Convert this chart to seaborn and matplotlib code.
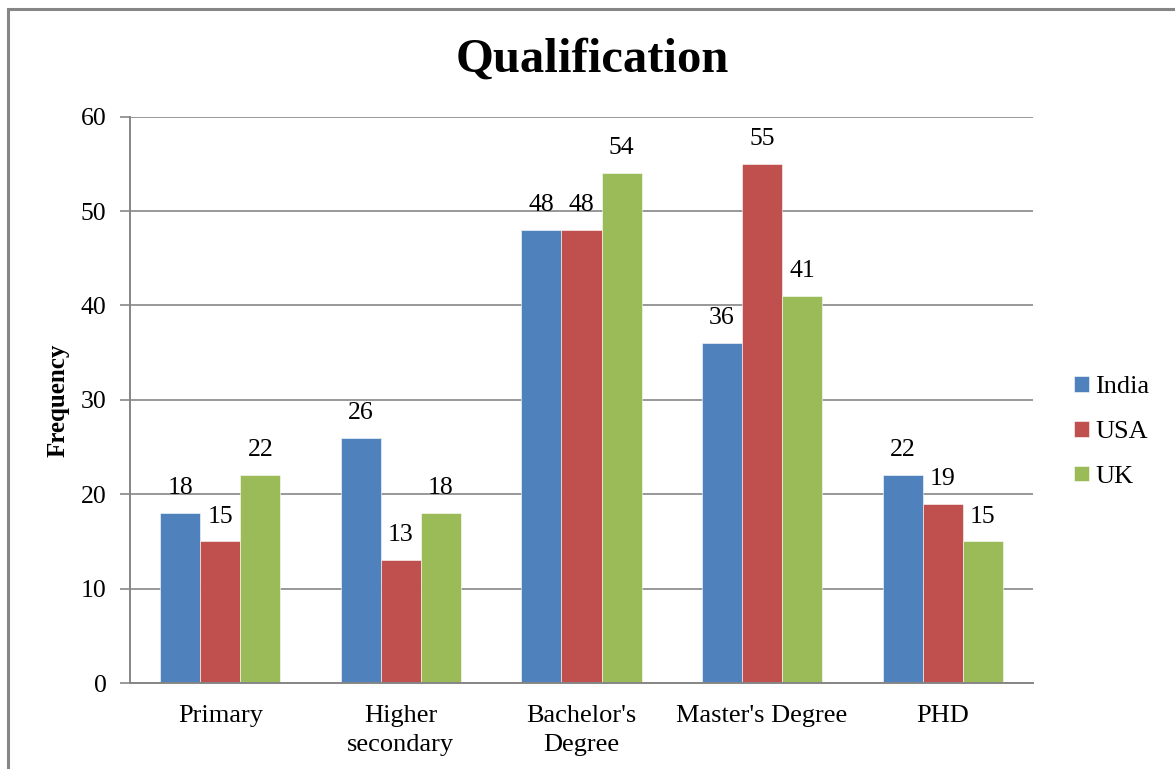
import matplotlib
matplotlib.use("Agg")
import matplotlib.pyplot as plt
import seaborn as sns
import pandas as pd
from matplotlib.patches import Rectangle

categories = ["Primary", "Higher\nsecondary", "Bachelor's\nDegree", "Master's Degree", "PHD"]
india = [18, 26, 48, 36, 22]
usa = [15, 13, 48, 55, 19]
uk = [22, 18, 54, 41, 15]
series_names = ["India", "USA", "UK"]
colors = ["#4F81BD", "#C0504D", "#9BBB59"]
yticks = [0, 10, 20, 30, 40, 50, 60]

df = pd.DataFrame({
    "Category": categories * 3,
    "Country": ["India"] * 5 + ["USA"] * 5 + ["UK"] * 5,
    "Frequency": india + usa + uk,
})

sns.set_style("white")
plt.rcParams["font.family"] = ["Liberation Serif", "DejaVu Serif"]
plt.rcParams["text.color"] = "black"
plt.rcParams["xtick.color"] = "black"
plt.rcParams["ytick.color"] = "black"

W, H = 1175, 769
fig = plt.figure(figsize=(W / 100, H / 100), dpi=100)
ax = fig.add_axes([130 / W, 1 - 683 / H, (1033 - 130) / W, (683 - 116.7) / H])

sns.barplot(data=df, x="Category", y="Frequency", hue="Country",
            hue_order=series_names, palette=colors, order=categories,
            width=0.665, gap=0, saturation=1, ax=ax,
            edgecolor="white", linewidth=0.4, errorbar=None)

for cont in ax.containers:
    ax.bar_label(cont, fmt="%d", padding=10, fontsize=18.5, color="black")

ax.set_ylim(0, 60)
ax.set_yticks(yticks)
ax.set_yticklabels([str(v) for v in yticks], fontsize=18.5)
ax.yaxis.grid(True, color="#868686", linewidth=1.2)
ax.set_axisbelow(True)
ax.tick_params(axis="y", length=7, width=1.2, color="#868686", labelcolor="black", pad=10, left=True)
ax.tick_params(axis="x", length=0, pad=16, labelsize=19, labelcolor="black")
for lbl in ax.get_xticklabels():
    lbl.set_linespacing(1.4)

for s in ["top", "right"]:
    ax.spines[s].set_visible(False)
for s in ["left", "bottom"]:
    ax.spines[s].set_color("#868686")
    ax.spines[s].set_linewidth(1.4)

ax.set_xlabel("")
ax.set_ylabel("Frequency", fontsize=18, fontweight="bold", color="black")
ax.yaxis.label.set_va("center")
ax.yaxis.set_label_coords((58 - 130) / (1033 - 130), 0.5)

leg = ax.legend(loc="center left", bbox_to_anchor=((1074 - 130) / (1033 - 130), (683 - 432) / (683 - 116.7)),
                frameon=False, fontsize=19, handlelength=0.55, handleheight=0.55,
                handletextpad=0.25, labelspacing=0.85, borderpad=0, borderaxespad=0)
for t in leg.get_texts():
    t.set_color("black")

fig.text(592 / W, 1 - 60 / H, "Qualification", ha="center", va="center",
         fontsize=35, fontweight="bold", color="black")

fig.patches.append(Rectangle((8 / W, -0.1), 1.2, 1 - 9 / H + 0.1, transform=fig.transFigure,
                             fill=False, edgecolor="#868686", linewidth=2.2, zorder=10))

fig.savefig("out.png", dpi=100, facecolor="white")
